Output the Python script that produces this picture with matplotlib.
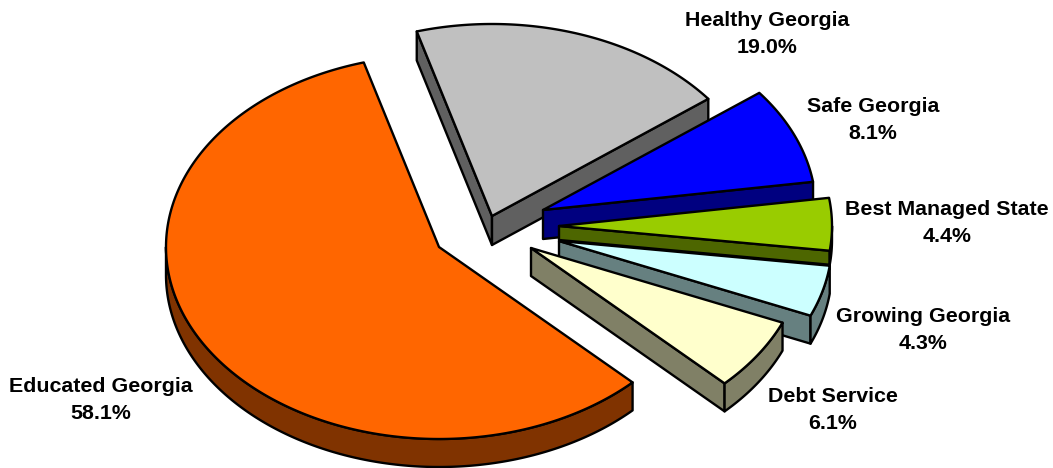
import numpy as np
import matplotlib
matplotlib.use("Agg")
import matplotlib.pyplot as plt
from matplotlib.patches import Polygon

# --- data (clockwise from the start angle, in legend order of the reference)
categories = ["Healthy Georgia", "Safe Georgia", "Best Managed State",
              "Growing Georgia", "Debt Service", "Educated Georgia"]
shares = [19.0, 8.1, 4.4, 4.3, 6.1, 58.1]

# --- styles
top_colors = ["#C0C0C0", "#0000FF", "#99CC00", "#CCFFFF", "#FFFFCC", "#FF6600"]
side_colors = ["#606060", "#000080", "#4D6600", "#668080", "#808066", "#803300"]

# --- layout, in pixels of the 1053x468 canvas
apexes = [(492, 216), (543, 210), (559, 226), (559, 241), (531, 248), (439, 247)]
depths = [29, 29, 14, 28, 28, 28]
label_xy = [(767, 34), (873, 120), (947, 223), (923, 330), (833, 410), (101, 400)]
RX, RY = 273, 192
START_DEG = 344.0
LW = 1.7

fig = plt.figure(figsize=(10.53, 4.68), dpi=100)
ax = fig.add_axes([0, 0, 1, 1])
ax.set_xlim(0, 1053)
ax.set_ylim(468, 0)
ax.axis("off")


def rim(apex, t0, t1):
    """Points of the ellipse arc from t0 to t1 (degrees, clockwise from 12 o'clock)."""
    t = np.radians(np.linspace(t0, t1, max(2, int(abs(t1 - t0)) * 2 + 2)))
    return np.column_stack([apex[0] + RX * np.sin(t), apex[1] - RY * np.cos(t)])


def face(points, color, z):
    ax.add_patch(Polygon(points, closed=True, facecolor=color, edgecolor="black",
                         linewidth=LW, joinstyle="round", zorder=z))


total = sum(shares)
edges = START_DEG + np.cumsum([0] + shares) / total * 360
z = 1
for i, name in enumerate(categories):
    t0, t1 = edges[i], edges[i + 1]
    A = np.array(apexes[i], float)
    down = np.array([0, depths[i]], float)
    # cut faces that look towards the viewer
    for t, visible in ((t0, np.sin(np.radians(t0)) < 0), (t1, np.sin(np.radians(t1)) > 0)):
        if visible:
            P = rim(A, t, t + 1)[0]
            face([A, P, P + down, A + down], side_colors[i], z)
            z += 1
    # visible outer wall: the front half of the ellipse, 90..270 deg
    for k in range(-1, 2):
        lo, hi = max(t0, 90 + 360 * k), min(t1, 270 + 360 * k)
        if hi > lo:
            arc = rim(A, lo, hi)
            face(np.vstack([arc, arc[::-1] + down]), side_colors[i], z)
            z += 1
    # top surface
    face(np.vstack([[A], rim(A, t0, t1)]), top_colors[i], z)
    z += 1

for name, v, (x, y) in zip(categories, shares, label_xy):
    ax.text(x, y, f"{name}\n{v:.1f}%", ha="center", va="center", ma="center",
            family="Liberation Sans", fontweight="bold", fontsize=15.4,
            linespacing=1.48, color="black", zorder=z)

fig.savefig("out.png", dpi=100)
